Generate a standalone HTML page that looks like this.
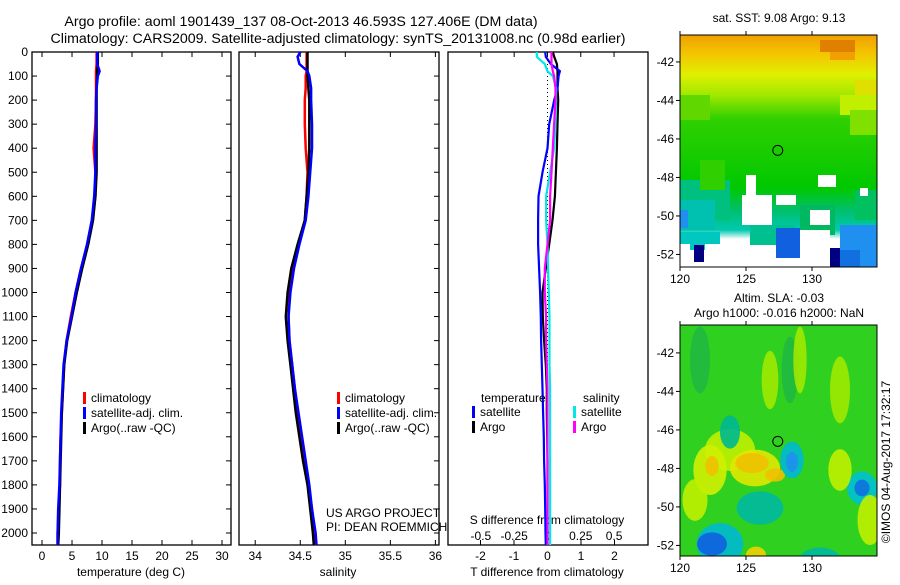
<!DOCTYPE html>
<html><head><meta charset="utf-8">
<style>
html,body{margin:0;padding:0;background:#fff;}
body{width:900px;height:580px;overflow:hidden;font-family:"Liberation Sans",sans-serif;}
svg text{font-family:"Liberation Sans",sans-serif;font-size:12px;fill:#000;}
svg text.title{font-size:14.2px;}
</style></head>
<body>
<svg id="chart" width="900" height="580" xmlns="http://www.w3.org/2000/svg">
<defs>
<linearGradient id="sstGrad" x1="0" y1="0" x2="0" y2="1">
<stop offset="0" stop-color="#f0a000"/><stop offset="0.08" stop-color="#f4c400"/>
<stop offset="0.17" stop-color="#e0f000"/><stop offset="0.26" stop-color="#a0e800"/>
<stop offset="0.36" stop-color="#30d000"/><stop offset="0.66" stop-color="#00c800"/>
<stop offset="0.76" stop-color="#00c070"/><stop offset="0.84" stop-color="#00c8b0"/>
<stop offset="0.88" stop-color="#ffffff"/><stop offset="1" stop-color="#ffffff"/>
</linearGradient>
<clipPath id="clipMap1"><rect x="680" y="35" width="197" height="232"/></clipPath>
<clipPath id="clipMap2"><rect x="680" y="325" width="197" height="231"/></clipPath>
</defs>
<g>
<text class="title" x="301" y="26" text-anchor="middle">Argo profile: aoml 1901439_137 08-Oct-2013 46.593S 127.406E (DM data)</text>
<text class="title" x="338" y="43" text-anchor="middle">Climatology: CARS2009. Satellite-adjusted climatology: synTS_20131008.nc (0.98d earlier)</text>
</g>
<g id="layer"></g>
</svg>
<script>
// ---- data ----
const depths = [0,20,50,80,100,150,200,300,400,500,600,700,800,900,1000,1100,1200,1300,1400,1500,1600,1700,1800,1900,2000,2050];
const tempArgo = [9.3,9.3,9.3,9.2,9.2,9.1,9.1,9.1,9.1,9.1,8.9,8.5,7.7,6.7,5.8,5.0,4.2,3.7,3.5,3.3,3.2,3.1,3.0,2.9,2.8,2.7];
const tempClim = [9.1,9.1,9.1,9.0,9.0,9.0,9.0,8.9,8.6,8.9,8.9,8.4,7.6,6.5,5.6,4.8,4.1,3.7,3.5,3.3,3.1,3.0,3.0,2.8,2.6,2.6];
const tempSat  = [9.2,9.2,9.2,9.6,9.3,9.1,9.0,9.0,8.9,8.9,8.7,8.3,7.5,6.5,5.6,4.9,4.1,3.6,3.4,3.2,3.1,3.0,2.9,2.7,2.6,2.6];
const salArgo = [34.58,34.58,34.58,34.58,34.58,34.59,34.6,34.6,34.6,34.59,34.57,34.55,34.47,34.4,34.36,34.34,34.36,34.39,34.42,34.45,34.49,34.53,34.58,34.61,34.64,34.65];
const salClim = [34.57,34.57,34.57,34.57,34.56,34.56,34.55,34.55,34.56,34.58,34.57,34.55,34.48,34.42,34.38,34.37,34.38,34.41,34.44,34.47,34.51,34.55,34.59,34.63,34.66,34.67];
const salSat  = [34.5,34.47,34.49,34.58,34.6,34.62,34.62,34.63,34.63,34.61,34.59,34.56,34.49,34.43,34.39,34.37,34.38,34.41,34.44,34.48,34.52,34.56,34.6,34.63,34.67,34.68];
const dTSat  = [-0.07,-0.05,0.1,0.37,0.33,0.3,0.2,0.05,0.0,-0.15,-0.27,-0.28,-0.28,-0.25,-0.22,-0.2,-0.19,-0.17,-0.15,-0.13,-0.11,-0.1,-0.08,-0.07,-0.06,-0.05];
const dTArgo = [0.16,0.2,0.28,0.3,0.3,0.3,0.32,0.3,0.28,0.25,0.22,0.15,0.05,-0.05,-0.15,-0.14,-0.1,-0.05,-0.02,-0.02,-0.01,0,0,0,0,0];
const dSSat  = [-0.08,-0.08,-0.02,0.0,0.04,0.065,0.065,0.06,0.05,0.02,-0.01,-0.01,0.0,0.005,0.01,0.015,0.015,0.015,0.02,0.02,0.02,0.02,0.02,0.02,0.02,0.02];
const dSArgo = [0.03,0.03,0.03,0.04,0.05,0.06,0.06,0.05,0.04,0.03,0.02,0.02,0.0,-0.02,-0.02,-0.01,-0.01,-0.005,0.0,0.0,0.0,0.0,0.0,0.0,0.0,0.0];
const depthTicks = [0,100,200,300,400,500,600,700,800,900,1000,1100,1200,1300,1400,1500,1600,1700,1800,1900,2000];
const tempTicks = [0,5,10,15,20,25,30];
const salTicks = [34,34.5,35,35.5,36];
const salTickLabels = ["34","34.5","35","35.5","36"];
const dTTicks = [-2,-1,0,1,2];
const dSTicks = [-0.5,-0.25,0,0.25,0.5];
const dSTickLabels = ["-0.5","-0.25","0","0.25","0.5"];
const latTicks = [-42,-44,-46,-48,-50,-52];
const lonTicks = [120,125,130];
const argoLon = 127.406, argoLat = -46.593;

const NS="http://www.w3.org/2000/svg";
const layer=document.getElementById('layer');
function el(tag,attrs,parent){const e=document.createElementNS(NS,tag);for(const k in attrs)e.setAttribute(k,attrs[k]);(parent||layer).appendChild(e);return e;}
function txt(x,y,s,anchor,parent){const t=el('text',{x:x,y:y,'text-anchor':anchor||'start'},parent);t.textContent=s;return t;}

const yTop=52, yBot=545;
function yD(d){return yTop + d*0.2405;}
const panels=[
 {name:'temperature-panel',x0:32,x1:231,vmin:-1.67,vmax:31.5},
 {name:'salinity-panel',x0:239,x1:439,vmin:33.82,vmax:36.04},
 {name:'difference-panel',x0:448,x1:648,vmin:-2.97,vmax:3.0}
];
function sx(p,v){return p.x0+(v-p.vmin)/(p.vmax-p.vmin)*(p.x1-p.x0);}
const sPanel={x0:448,x1:648,vmin:-0.747,vmax:0.755};

function frame(p){
 const g=el('g',{});
 
 
 el('rect',{x:p.x0,y:yTop,width:p.x1-p.x0,height:yBot-yTop,fill:'none',stroke:'#000','stroke-width':1.3},g);
 return g;
}
function line(g,p,xs,ys,color,name,w){
 let d='';
 for(let i=0;i<xs.length;i++){d+=(i?'L':'M')+sx(p,xs[i]).toFixed(1)+','+yD(ys[i]).toFixed(1);}
 const path=el('path',{d:d,fill:'none',stroke:color,'stroke-width':w||2.5},g);
 
 
}
function legend(g,x,y,items){
 items.forEach((it,i)=>{
  el('rect',{x:x,y:y+i*15-10,width:3,height:12,fill:it[0]},g);
  txt(x+8,y+i*15,it[1],'start',g);
 });
}

// Panel 1
const p1=panels[0]; const g1=frame(p1);
depthTicks.forEach(d=>{
 const y=yD(d);
 el('line',{x1:p1.x0,y1:y,x2:p1.x0+5,y2:y,stroke:'#000'},g1);
 el('line',{x1:p1.x1,y1:y,x2:p1.x1-5,y2:y,stroke:'#000'},g1);
 el('line',{x1:panels[1].x1,y1:y,x2:panels[1].x1-5,y2:y,stroke:'#000'},g1);
 txt(28,y+4,String(d),'end',g1);
});
tempTicks.forEach(t=>{const x=sx(p1,t);el('line',{x1:x,y1:yTop,x2:x,y2:yTop+5,stroke:'#000'},g1);el('line',{x1:x,y1:yBot,x2:x,y2:yBot-5,stroke:'#000'},g1);txt(x,560,String(t),'middle',g1);});
txt(131,576,'temperature (deg C)','middle',g1);
line(g1,p1,tempClim,depths,'#ff0000','temp-climatology-line');
line(g1,p1,tempArgo,depths,'#000000','temp-argo-line');
line(g1,p1,tempSat,depths,'#0000ff','temp-satellite-line');
legend(g1,83,402,[['#ff0000','climatology'],['#0000ff','satellite-adj. clim.'],['#000000','Argo(..raw -QC)']]);

// Panel 2
const p2=panels[1]; const g2=frame(p2);
salTicks.forEach((s,i)=>{const x=sx(p2,s);el('line',{x1:x,y1:yTop,x2:x,y2:yTop+5,stroke:'#000'},g2);el('line',{x1:x,y1:yBot,x2:x,y2:yBot-5,stroke:'#000'},g2);txt(x,560,salTickLabels[i],'middle',g2);});
txt(338,576,'salinity','middle',g2);
line(g2,p2,salClim,depths,'#ff0000','sal-climatology-line');
line(g2,p2,salArgo,depths,'#000000','sal-argo-line');
line(g2,p2,salSat,depths,'#0000ff','sal-satellite-line');
legend(g2,337,402,[['#ff0000','climatology'],['#0000ff','satellite-adj. clim.'],['#000000','Argo(..raw -QC)']]);
txt(326,517,'US ARGO PROJECT','start',g2);
txt(326,531,'PI: DEAN ROEMMICH','start',g2);

// Panel 3
const p3=panels[2]; const g3=frame(p3);
dTTicks.forEach(t=>{const x=sx(p3,t);el('line',{x1:x,y1:yBot,x2:x,y2:yBot-5,stroke:'#000'},g3);txt(x,560,String(t),'middle',g3);});
dSTicks.forEach((s,i)=>{const x=sx(sPanel,s);el('line',{x1:x,y1:yTop,x2:x,y2:yTop+5,stroke:'#000'},g3);txt(x,540,dSTickLabels[i],'middle',g3);});
txt(547,576,'T difference from climatology','middle',g3);
txt(547,524,'S difference from climatology','middle',g3);
el('line',{x1:sx(p3,0),y1:yTop,x2:sx(p3,0),y2:yBot,stroke:'#000','stroke-dasharray':'1,3'},g3);
line(g3,p3,dTArgo,depths,'#000000','tdiff-argo-line',2.2);
line(g3,p3,dTSat,depths,'#0000ff','tdiff-satellite-line',2.2);
line(g3,sPanel,dSSat,depths,'#00e8e8','sdiff-satellite-line',2.2);
line(g3,sPanel,dSArgo,depths,'#ff00ff','sdiff-argo-line',2.2);
txt(481,402,'temperature','start',g3);
txt(583,402,'salinity','start',g3);
legend(g3,472,416,[['#0000ff','satellite'],['#000000','Argo']]);
legend(g3,573,416,[['#00e8e8','satellite'],['#ff00ff','Argo']]);

// Maps
function mapAxes(g,top,bot,lat0){
 const mx0=680,mx1=877;
 const lx=v=>mx0+(v-120)*13.2;
 const ly=v=>top+(lat0-v)*19.25;
 el('rect',{x:mx0,y:top,width:mx1-mx0,height:bot-top,fill:'none',stroke:'#000','stroke-width':1},g);
 latTicks.forEach(l=>{const y=ly(l);el('line',{x1:mx0-4,y1:y,x2:mx0,y2:y,stroke:'#000'},g);txt(mx0-6,y+4,String(l),'end',g);});
 lonTicks.forEach(l=>{const x=lx(l);el('line',{x1:x,y1:bot,x2:x,y2:bot+4,stroke:'#000'},g);el('line',{x1:x,y1:top,x2:x,y2:top-4,stroke:'#000'},g);txt(x,bot+16,String(l),'middle',g);});
 const c=el('circle',{cx:lx(argoLon),cy:ly(argoLat),r:5,fill:'none',stroke:'#000','stroke-width':1},g);
 
 
}
const gm1=el('g',{});


const cm1=el('g',{'clip-path':'url(#clipMap1)'},gm1);
el('rect',{x:680,y:35,width:197,height:232,fill:'url(#sstGrad)'},cm1);
[[855,80,22,25,'#e0e000'],[840,95,37,20,'#c0f000'],[850,110,27,25,'#80e000'],[680,95,30,25,'#60d800'],
 [680,180,50,40,'#00c080'],[680,200,35,30,'#00c0b0'],[680,210,8,18,'#2090f0'],[700,160,25,30,'#30d000'],
 [680,232,40,12,'#00c8c0'],[690,240,15,10,'#00c8c0'],
 [776,195,20,10,'#fff'],[742,195,30,30,'#fff'],[746,175,10,25,'#fff'],[750,225,45,20,'#00c090'],[776,228,28,30,'#1060e0'],
 [745,245,15,20,'#fff'],[800,205,35,30,'#00b860'],[818,175,18,12,'#fff'],[855,190,22,30,'#00c060'],[860,188,8,8,'#fff'],
 [810,210,20,15,'#fff'],[840,225,37,42,'#2090f0'],[820,250,40,17,'#1070e0'],[825,248,15,19,'#000080'],[806,255,15,12,'#000080'],
 [694,245,10,17,'#000080'],[820,40,35,12,'#e08000'],[830,52,25,8,'#f0a000'],[800,230,30,37,'#fff'],[680,250,10,17,'#fff']].forEach(r=>{
 el('rect',{x:r[0],y:r[1],width:r[2],height:r[3],fill:r[4]},cm1);});
mapAxes(gm1,35,267,-40.6);
txt(779,22,'sat. SST: 9.08 Argo: 9.13','middle',gm1);

const gm2=el('g',{});


const cm2=el('g',{'clip-path':'url(#clipMap2)'},gm2);
el('rect',{x:680,y:325,width:197,height:231,fill:'#30d020'},cm2);
[[700,360,12,40,'#20b840'],[790,370,10,40,'#20b840'],[770,380,10,35,'#a0e800'],[800,360,8,40,'#a0e800'],[840,390,12,40,'#a0e800'],
 [730,450,30,25,'#c0f000'],[755,468,30,22,'#e0e800'],[752,463,20,12,'#f0c000'],[775,475,12,8,'#f0c000'],[710,470,20,30,'#d0f000'],[712,466,8,12,'#f0c000'],
 [730,432,12,20,'#00b890'],[792,460,14,22,'#00b8d0'],[792,462,7,12,'#2090f0'],[862,488,18,20,'#00c0d0'],[862,488,9,10,'#1070e0'],
 [720,544,28,25,'#00b8d0'],[712,544,18,14,'#1060e0'],[760,508,28,20,'#00b8a0'],[840,470,14,25,'#c0f000'],[695,500,15,25,'#c0f000'],[870,520,15,30,'#c0f000'],
 [820,560,25,15,'#00b8a0'],[756,555,12,10,'#f0d000']].forEach(e=>{
 el('ellipse',{cx:e[0],cy:e[1],rx:e[2]/1.2,ry:e[3]/1.2,fill:e[4],opacity:0.9},cm2);});
mapAxes(gm2,325,556,-40.55);
txt(779,302,'Altim. SLA: -0.03','middle',gm2);
txt(779,317,'Argo h1000: -0.016 h2000: NaN','middle',gm2);
const stamp=txt(0,0,'©IMOS 04-Aug-2017 17:32:17','middle');
stamp.setAttribute('transform','translate(890,462) rotate(-90)');


</script>
</body></html>
